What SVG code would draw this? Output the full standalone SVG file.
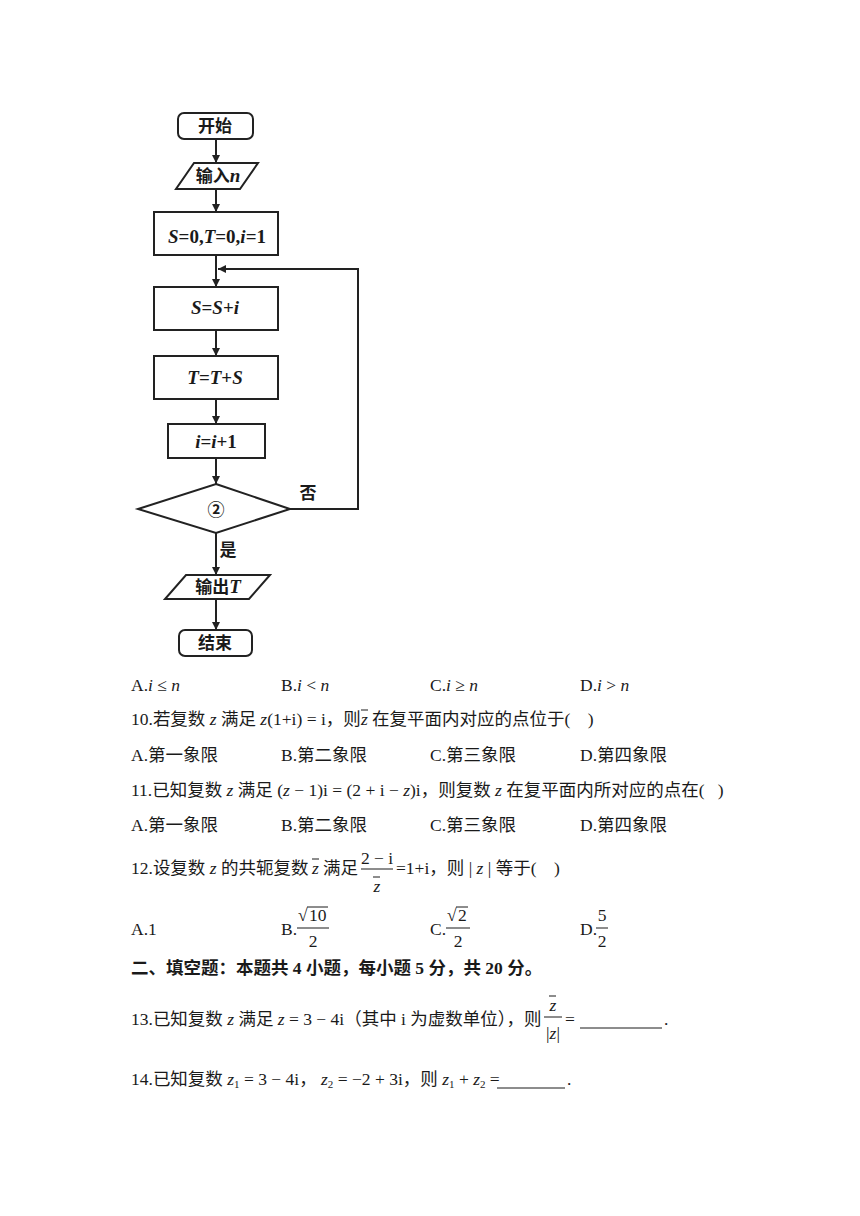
<svg xmlns="http://www.w3.org/2000/svg" width="860" height="1216" viewBox="0 0 860 1216">
<defs>
<marker id="arr" viewBox="0 0 10 10" refX="10" refY="5" markerWidth="8" markerHeight="8" markerUnits="userSpaceOnUse" orient="auto">
<path d="M0,0 L10,5 L0,10 Z" fill="#222"/>
</marker>
<style>
.box{fill:none;stroke:#222;stroke-width:2}
.ln{fill:none;stroke:#222;stroke-width:2}
.cn{font-family:"Noto Sans CJK SC",sans-serif;font-weight:bold;font-size:17px;fill:#1a1a1a}
.fm{font-family:"Liberation Serif","Noto Sans CJK SC",serif;font-style:italic;font-weight:bold;font-size:19px;fill:#1a1a1a}
.up{font-style:normal}
.t{font-family:"Liberation Serif","Noto Sans CJK SC",serif;font-size:17.5px;fill:#1a1a1a}
.b{font-weight:bold}
.it{font-style:italic}
.sub{font-size:11px}
.bar{stroke:#1a1a1a;stroke-width:1}
</style>
</defs>
<rect width="860" height="1216" fill="#fff"/>

<g id="connectors">
<line class="ln" x1="216" y1="139" x2="216" y2="163" marker-end="url(#arr)"/>
<line class="ln" x1="216" y1="189" x2="216" y2="212" marker-end="url(#arr)"/>
<line class="ln" x1="216" y1="255" x2="216" y2="287" marker-end="url(#arr)"/>
<polyline class="ln" points="290,509 358,509 358,269 218,269" marker-end="url(#arr)"/>
<line class="ln" x1="216" y1="330" x2="216" y2="356" marker-end="url(#arr)"/>
<line class="ln" x1="216" y1="399" x2="216" y2="424" marker-end="url(#arr)"/>
<line class="ln" x1="216" y1="458" x2="216" y2="484" marker-end="url(#arr)"/>
<line class="ln" x1="216" y1="533" x2="216" y2="575" marker-end="url(#arr)"/>
<line class="ln" x1="216" y1="599" x2="216" y2="630" marker-end="url(#arr)"/>
<text class="cn" x="308" y="499" text-anchor="middle">否</text>
<text class="cn" x="228" y="556" text-anchor="middle">是</text>
</g>

<g id="start">
<rect class="box" x="178" y="113" width="75" height="26" rx="6"/>
<text class="cn" x="215" y="132" text-anchor="middle">开始</text>
</g>
<g id="input">
<polygon class="box" points="194,163 258,163 240,189 176,189"/>
<text class="cn" x="218" y="182" text-anchor="middle">输入<tspan class="fm" font-size="19">n</tspan></text>
</g>
<g id="init">
<rect class="box" x="154" y="212" width="124" height="43"/>
<text class="fm" x="217" y="243" text-anchor="middle">S<tspan class="up">=0,</tspan>T<tspan class="up">=0,</tspan>i<tspan class="up">=1</tspan></text>
</g>
<g id="stepS">
<rect class="box" x="154" y="287" width="124" height="43"/>
<text class="fm" x="215" y="314" text-anchor="middle">S<tspan class="up">=</tspan>S<tspan class="up">+</tspan>i</text>
</g>
<g id="stepT">
<rect class="box" x="154" y="356" width="124" height="43"/>
<text class="fm" x="215" y="384" text-anchor="middle">T<tspan class="up">=</tspan>T<tspan class="up">+</tspan>S</text>
</g>
<g id="stepI">
<rect class="box" x="168" y="424" width="97" height="34"/>
<text class="fm" x="216" y="448" text-anchor="middle">i<tspan class="up">=</tspan>i<tspan class="up">+1</tspan></text>
</g>
<g id="cond">
<polygon class="box" points="216,484 290,509 216,533 138,509"/>
<text class="cn" x="216" y="516" font-size="20" text-anchor="middle">②</text>
</g>
<g id="output">
<polygon class="box" points="186,575 270,575 249,599 165,599"/>
<text class="cn" x="218" y="593" text-anchor="middle">输出<tspan class="fm">T</tspan></text>
</g>
<g id="end">
<rect class="box" x="179" y="630" width="73" height="26" rx="6"/>
<text class="cn" x="215" y="649" text-anchor="middle">结束</text>
</g>

<g id="questions">
<text class="t" x="131" y="691">A.<tspan class="it">i</tspan> ≤ <tspan class="it">n</tspan></text>
<text class="t" x="281" y="691">B.<tspan class="it">i</tspan> &lt; <tspan class="it">n</tspan></text>
<text class="t" x="430" y="691">C.<tspan class="it">i</tspan> ≥ <tspan class="it">n</tspan></text>
<text class="t" x="580" y="691">D.<tspan class="it">i</tspan> &gt; <tspan class="it">n</tspan></text>

<text class="t" x="131" y="725">10.若复数 <tspan class="it">z</tspan> 满足 <tspan class="it">z</tspan>(1+i) = i，则</text>
<text class="t it" x="361" y="725">z</text>
<line class="bar" x1="361" y1="710" x2="368" y2="710"/>
<text class="t" x="372" y="725">在复平面内对应的点位于(&#160;&#160;&#160;&#160;)</text>

<text class="t" x="131" y="761">A.第一象限</text>
<text class="t" x="281" y="761">B.第二象限</text>
<text class="t" x="430" y="761">C.第三象限</text>
<text class="t" x="580" y="761">D.第四象限</text>

<text class="t" x="131" y="796">11.已知复数 <tspan class="it">z</tspan> 满足 (<tspan class="it">z</tspan> − 1)i = (2 + i − <tspan class="it">z</tspan>)i，则复数 <tspan class="it">z</tspan> 在复平面内所对应的点在(&#160;&#160;&#160;)</text>

<text class="t" x="131" y="831">A.第一象限</text>
<text class="t" x="281" y="831">B.第二象限</text>
<text class="t" x="430" y="831">C.第三象限</text>
<text class="t" x="580" y="831">D.第四象限</text>

<text class="t" x="131" y="874">12.设复数 <tspan class="it">z</tspan> 的共轭复数</text>
<text class="t it" x="312" y="874">z</text>
<line class="bar" x1="312" y1="859" x2="319" y2="859"/>
<text class="t" x="323" y="874">满足</text>
<text class="t" x="377" y="864" text-anchor="middle">2 − i</text>
<line class="bar" x1="361" y1="869" x2="393" y2="869"/>
<text class="t it" x="377" y="892" text-anchor="middle">z</text>
<line class="bar" x1="373" y1="877" x2="380" y2="877"/>
<text class="t" x="396" y="874">=1+i，则 | <tspan class="it">z</tspan> | 等于(&#160;&#160;&#160;&#160;)</text>

<text class="t" x="131" y="935">A.1</text>
<text class="t" x="281" y="935">B.</text>
<text class="t" x="298" y="921">√</text>
<line class="bar" x1="307" y1="907" x2="328" y2="907"/>
<text class="t" x="309" y="921">10</text>
<line class="bar" x1="297" y1="928" x2="329" y2="928"/>
<text class="t" x="313" y="947" text-anchor="middle">2</text>

<text class="t" x="430" y="935">C.</text>
<text class="t" x="447" y="921">√</text>
<line class="bar" x1="456" y1="907" x2="468" y2="907"/>
<text class="t" x="458" y="921">2</text>
<line class="bar" x1="446" y1="928" x2="470" y2="928"/>
<text class="t" x="458" y="947" text-anchor="middle">2</text>

<text class="t" x="580" y="935">D.</text>
<text class="t" x="602" y="921" text-anchor="middle">5</text>
<line class="bar" x1="596" y1="928" x2="608" y2="928"/>
<text class="t" x="602" y="947" text-anchor="middle">2</text>

<text class="t b" x="131" y="974" font-size="17">二、填空题：本题共 4 小题，每小题 5 分，共 20 分。</text>

<text class="t" x="131" y="1025">13.已知复数 <tspan class="it">z</tspan> 满足 <tspan class="it">z</tspan> = 3 − 4i（其中 i 为虚数单位），则</text>
<text class="t it" x="553" y="1011" text-anchor="middle">z</text>
<line class="bar" x1="549" y1="996" x2="556" y2="996"/>
<line class="bar" x1="544" y1="1017" x2="562" y2="1017"/>
<text class="t" x="553" y="1039" text-anchor="middle">|<tspan class="it">z</tspan>|</text>
<text class="t" x="565" y="1025">=</text>
<line class="bar" x1="580" y1="1028" x2="662" y2="1028"/>
<text class="t" x="664" y="1025">.</text>

<text class="t" x="131" y="1085">14.已知复数 <tspan class="it">z</tspan><tspan class="sub" dy="3">1</tspan><tspan dy="-3"> = 3 − 4i，  </tspan><tspan class="it">z</tspan><tspan class="sub" dy="3">2</tspan><tspan dy="-3"> = −2 + 3i，则 </tspan><tspan class="it">z</tspan><tspan class="sub" dy="3">1</tspan><tspan dy="-3"> + </tspan><tspan class="it">z</tspan><tspan class="sub" dy="3">2</tspan><tspan dy="-3"> =</tspan></text>
<line class="bar" x1="497" y1="1088" x2="565" y2="1088"/>
<text class="t" x="567" y="1085">.</text>
</g>
</svg>
